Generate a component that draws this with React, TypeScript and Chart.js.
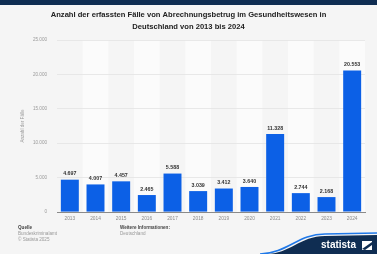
import React, { useEffect, useRef } from "react";
import { Chart, registerables } from "chart.js";

Chart.register(...registerables);

const categories = ["2013", "2014", "2015", "2016", "2017", "2018", "2019", "2020", "2021", "2022", "2023", "2024"];
const values = [4697, 4007, 4457, 2465, 5588, 3039, 3412, 3640, 11328, 2744, 2168, 20553];
const yTicks = [0, 5000, 10000, 15000, 20000, 25000];
const titleLines = [
  "Anzahl der erfassten Fälle von Abrechnungsbetrug im Gesundheitswesen in",
  "Deutschland von 2013 bis 2024",
];
const yTitle = "Anzahl der Fälle";
const sourceLines = ["Quelle", "Bundeskriminalamt", "© Statista 2025"];
const infoLines = ["Weitere Informationen:", "Deutschland"];

const FONT = "'Liberation Sans', Arial, sans-serif";
const fmt = (v: number) => v.toLocaleString("de-DE");

const decorPlugin = {
  id: "decor",
  beforeDraw(chart: any) {
    const { ctx, width, height, chartArea } = chart;
    ctx.save();
    ctx.fillStyle = "#f5f5f5";
    ctx.fillRect(0, 0, width, height);
    // top navy bar
    ctx.fillStyle = "#0f2d52";
    ctx.fillRect(0, 0, width, 5);
    // column stripes
    const n = categories.length;
    const step = (chartArea.right - chartArea.left) / n;
    ctx.fillStyle = "#fbfbfb";
    for (let i = 1; i < n; i += 2) {
      ctx.fillRect(chartArea.left + step * i, chartArea.top, step, chartArea.bottom - chartArea.top);
    }
    // title
    ctx.fillStyle = "#222";
    ctx.font = `bold 7.6px ${FONT}`;
    ctx.textAlign = "center";
    ctx.textBaseline = "middle";
    titleLines.forEach((t, i) => ctx.fillText(t, width / 2, 15 + i * 12));
    ctx.restore();
  },
  afterDraw(chart: any) {
    const { ctx, width, height } = chart;
    ctx.save();
    // value labels
    const meta = chart.getDatasetMeta(0);
    ctx.font = `bold 5.3px ${FONT}`;
    ctx.fillStyle = "#333";
    ctx.textAlign = "center";
    ctx.textBaseline = "bottom";
    meta.data.forEach((bar: any, i: number) => {
      ctx.fillText(fmt(values[i]), bar.x, bar.y - 3);
    });
    // footer
    ctx.textAlign = "left";
    ctx.textBaseline = "middle";
    sourceLines.forEach((t, i) => {
      ctx.font = i === 0 ? `bold 4.6px ${FONT}` : `4.6px ${FONT}`;
      ctx.fillStyle = i === 0 ? "#444" : "#999";
      ctx.fillText(t, 18, 228 + i * 6);
    });
    infoLines.forEach((t, i) => {
      ctx.font = i === 0 ? `bold 4.6px ${FONT}` : `4.6px ${FONT}`;
      ctx.fillStyle = i === 0 ? "#444" : "#999";
      ctx.fillText(t, 120, 228 + i * 6);
    });
    // logo wave
    ctx.beginPath();
    ctx.moveTo(266, height);
    ctx.bezierCurveTo(290, height, 300, 236, 325, 236);
    ctx.lineTo(width, 235);
    ctx.lineTo(width, height);
    ctx.closePath();
    ctx.fillStyle = "#0f2d52";
    ctx.fill();
    ctx.beginPath();
    ctx.moveTo(260, height);
    ctx.bezierCurveTo(288, height - 1, 298, 234, 325, 234);
    ctx.lineTo(width, 233);
    ctx.strokeStyle = "#1f78e8";
    ctx.lineWidth = 1.6;
    ctx.stroke();
    ctx.fillStyle = "#ffffff";
    ctx.font = `bold 10px ${FONT}`;
    ctx.textBaseline = "middle";
    ctx.fillText("statista", 321, 245.5);
    // icon
    ctx.fillRect(362, 241, 10, 9);
    ctx.fillStyle = "#0f2d52";
    ctx.beginPath();
    ctx.moveTo(362, 249);
    ctx.lineTo(372, 242);
    ctx.lineTo(372, 245);
    ctx.lineTo(365, 250);
    ctx.closePath();
    ctx.fill();
    ctx.restore();
  },
};

export default function App() {
  const ref = useRef<HTMLCanvasElement>(null);
  useEffect(() => {
    document.body.style.margin = "0";
    const chart = new Chart(ref.current!, {
      type: "bar",
      data: {
        labels: categories,
        datasets: [
          {
            data: values,
            backgroundColor: "#0c60e6",
            barPercentage: 0.7,
            categoryPercentage: 1,
          },
        ],
      },
      options: {
        animation: false,
        responsive: false,
        maintainAspectRatio: false,
        layout: { padding: { left: 20, right: 12, top: 40, bottom: 30 } },
        plugins: {
          legend: { display: false },
          tooltip: { enabled: false },
          title: { display: false },
        },
        scales: {
          x: {
            grid: { display: false, drawTicks: false },
            border: { display: true, color: "#8a8a8a", width: 1 },
            ticks: { color: "#8a8a8a", font: { size: 4.8, family: FONT }, padding: 4 },
            afterFit: (s: any) => {
              s.height = 12;
            },
          },
          y: {
            min: 0,
            max: 25000,
            afterBuildTicks: (s: any) => {
              s.ticks = yTicks.map((v) => ({ value: v }));
            },
            grid: { color: "#e3e3e3", drawTicks: false, lineWidth: 0.8 },
            border: { display: false },
            ticks: {
              color: "#9a9a9a",
              font: { size: 4.6, family: FONT },
              padding: 10,
              callback: (v: any) => fmt(Number(v)),
            },
            title: {
              display: true,
              text: yTitle,
              color: "#9a9a9a",
              font: { size: 4.6, family: FONT },
              padding: 0,
            },
            afterFit: (s: any) => {
              s.width = 37;
            },
          },
        },
      },
      plugins: [decorPlugin],
    });
    return () => chart.destroy();
  }, []);
  return (
    <div style={{ position: "absolute", left: 0, top: 0, width: 377, height: 254 }}>
      <canvas ref={ref} width={377} height={254} style={{ width: 377, height: 254, display: "block" }} />
    </div>
  );
}
